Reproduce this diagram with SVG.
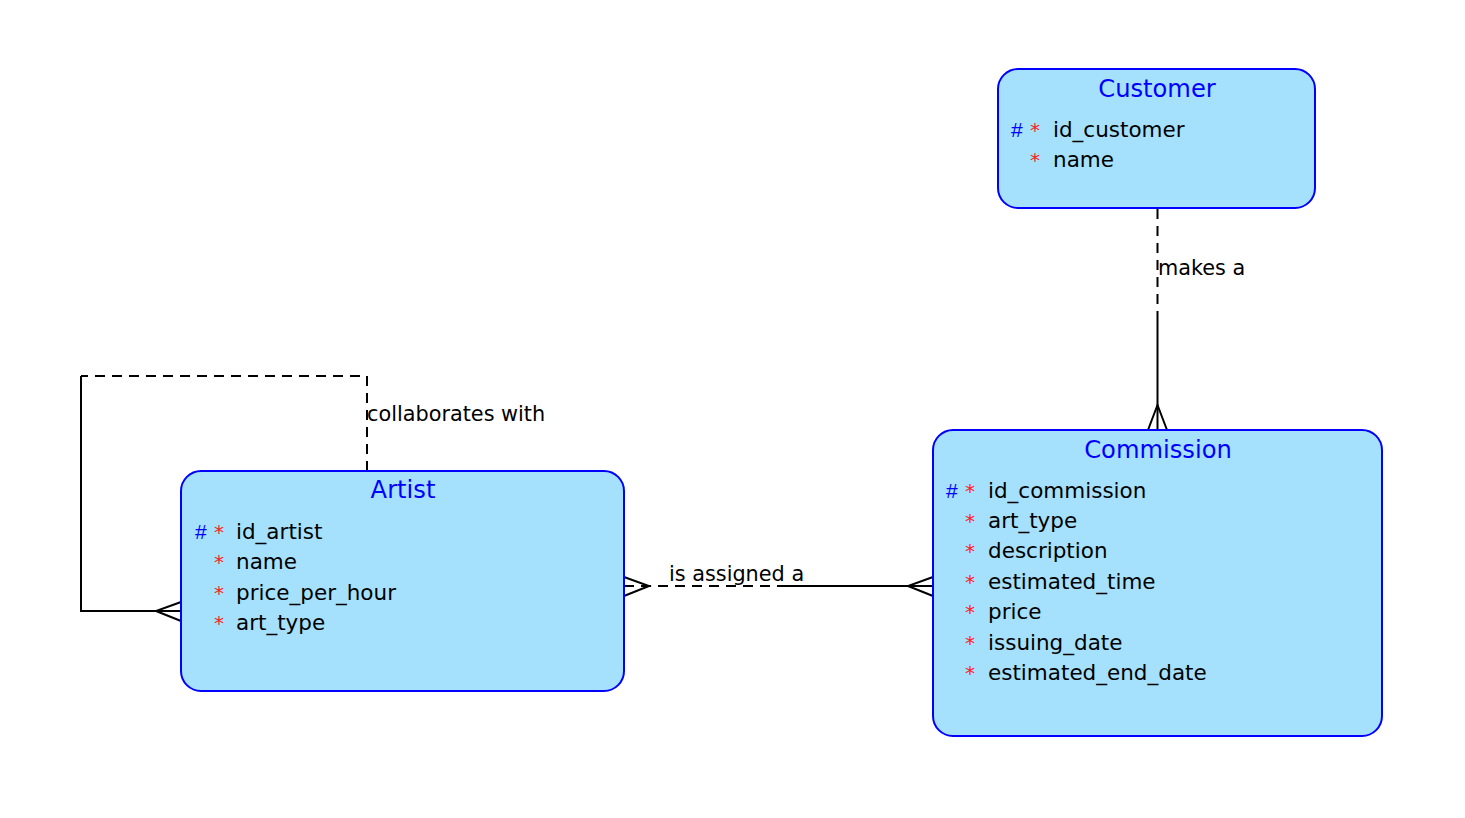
<svg xmlns="http://www.w3.org/2000/svg" width="1465" height="818" viewBox="0 0 1465 818">
<style>
.box{fill:#a5e1fc;stroke:#0000ff;stroke-width:2}
.title{font-family:"DejaVu Sans",Verdana,sans-serif;font-size:24.2px;fill:#0000ff;text-anchor:middle}
.attr{font-family:"DejaVu Sans",Verdana,sans-serif;font-size:21.5px;fill:#000}
.pk{font-family:"Liberation Sans",Arial,sans-serif;font-size:21px;fill:#0000ff}
.req{font-family:"DejaVu Sans",Verdana,sans-serif;font-size:20px;fill:#ff2020}
.lbl{font-family:"DejaVu Sans",Verdana,sans-serif;font-size:20.8px;fill:#000}
.ln{fill:none;stroke:#000;stroke-width:2}
.dash{stroke-dasharray:10 7}
</style>
<rect width="1465" height="818" fill="#fff"/>
<g id="connectors">
  <g id="customer-commission">
    <path class="ln dash" d="M1157.5,209 V318"/>
    <path class="ln" d="M1157.5,318 V430"/>
    <path class="ln" d="M1148,430 L1157.5,405 L1167,430"/>
    <text class="lbl" x="1158" y="275">makes a</text>
  </g>
  <g id="artist-commission">
    <path class="ln dash" d="M624,586 H777"/>
    <path class="ln" d="M777,586 H933"/>
    <path class="ln" d="M624,577 L649,586 L624,596"/>
    <path class="ln" d="M933,577 L908,586 L933,596"/>
    <text class="lbl" x="669" y="581">is assigned a</text>
  </g>
  <g id="artist-self">
    <path class="ln dash" d="M367,471 V376 H81"/>
    <path class="ln" d="M81,376 V611 H181"/>
    <path class="ln" d="M181,602 L156,611 L181,621"/>
    <text class="lbl" x="367" y="421">collaborates with</text>
  </g>
</g>
<g id="customer">
  <rect class="box" x="998" y="69" width="317" height="139" rx="20"/>
  <text class="title" x="1157" y="97">Customer</text>
  <text class="pk" x="1011" y="137">#</text><text class="req" x="1030" y="137">*</text><text class="attr" x="1053" y="137">id_customer</text>
  <text class="req" x="1030" y="167">*</text><text class="attr" x="1053" y="167">name</text>
</g>
<g id="commission">
  <rect class="box" x="933" y="430" width="449" height="306" rx="20"/>
  <text class="title" x="1158" y="458">Commission</text>
  <text class="pk" x="946" y="498">#</text><text class="req" x="965" y="498">*</text><text class="attr" x="988" y="498">id_commission</text>
  <text class="req" x="965" y="528">*</text><text class="attr" x="988" y="528">art_type</text>
  <text class="req" x="965" y="558">*</text><text class="attr" x="988" y="558">description</text>
  <text class="req" x="965" y="589">*</text><text class="attr" x="988" y="589">estimated_time</text>
  <text class="req" x="965" y="619">*</text><text class="attr" x="988" y="619">price</text>
  <text class="req" x="965" y="650">*</text><text class="attr" x="988" y="650">issuing_date</text>
  <text class="req" x="965" y="680">*</text><text class="attr" x="988" y="680">estimated_end_date</text>
</g>
<g id="artist">
  <rect class="box" x="181" y="471" width="443" height="220" rx="20"/>
  <text class="title" x="403" y="498">Artist</text>
  <text class="pk" x="195" y="539">#</text><text class="req" x="214" y="539">*</text><text class="attr" x="236" y="539">id_artist</text>
  <text class="req" x="214" y="569">*</text><text class="attr" x="236" y="569">name</text>
  <text class="req" x="214" y="600">*</text><text class="attr" x="236" y="600">price_per_hour</text>
  <text class="req" x="214" y="630">*</text><text class="attr" x="236" y="630">art_type</text>
</g>
</svg>
